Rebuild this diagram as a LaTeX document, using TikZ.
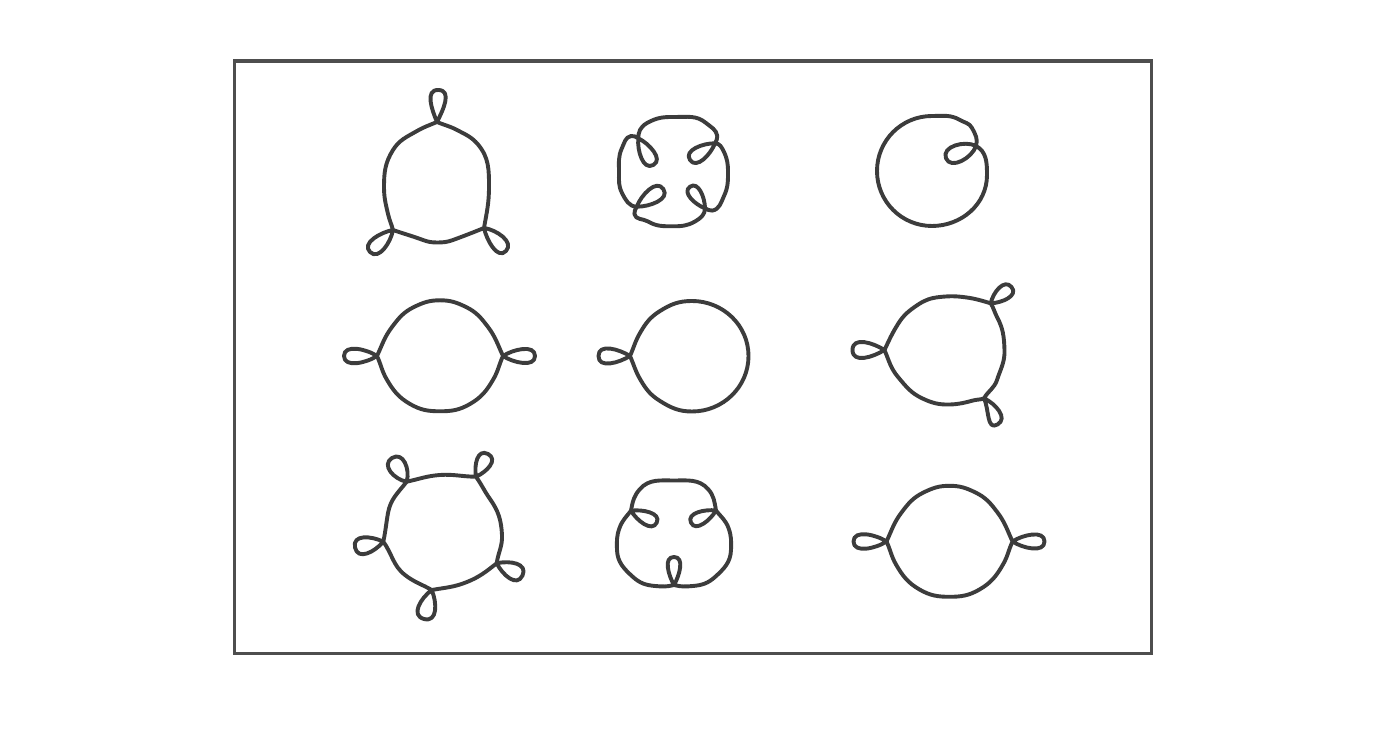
\documentclass[tikz,border=0pt]{standalone}
\usepackage{tikz}
\definecolor{ink}{RGB}{60,60,60}
\definecolor{framegray}{RGB}{78,78,78}
% waypoint path builder: point (x, y_img) with heading (degrees, y up)
\newcommand\cstart[3]{\xdef\cpath{(#1,-#2)}\xdef\curh{#3}}
\newcommand\wpt[4][]{\xdef\cpath{\cpath\space to[out=\curh,in=\the\numexpr#4+180\relax,#1] (#2,-#3)}\xdef\curh{#4}}
% waypoint with a change of heading (crossing point): arrive with #4, leave with #5
\newcommand\wptk[5][]{\xdef\cpath{\cpath\space to[out=\curh,in=\the\numexpr#4+180\relax,#1] (#2,-#3)}\xdef\curh{#5}}
\newcommand\cpathdraw[1][]{\edef\cpathtmp{\noexpand\draw[curve,#1] \cpath;}\cpathtmp}
\begin{document}
\begin{tikzpicture}[x=1pt,y=1pt,
  curve/.style={draw=ink,line width=3.9pt,line cap=round,line join=round},
  framebox/.style={draw=framegray,line width=3.3pt}]
\useasboundingbox (0,0) rectangle (1400,754);
\fill[white] (0,0) rectangle (1400,754);
\begin{scope}[shift={(0,754)}]
\draw[framebox] (234.3,-61) rectangle (1151.5,-653.5);

% ---------- Figure 1 (top left): three outward loops
\cstart{437}{122}{203}
\wpt{417}{131}{210}
\wpt{393}{150}{238}
\wpt{384}{187}{270}
\wpt{388}{214}{283}
\wptk{393}{230}{285}{260}
\wpt{370}{252}{135}
\wptk{393}{230}{10}{341}
\wpt{423}{240}{340}
\wpt{437}{242.5}{0}
\wpt{453}{240}{20}
\wptk{484}{228}{22}{352}
\wpt{506}{251}{227}
\wptk{484}{228}{102}{80}
\wpt{489}{187}{90}
\wpt{478}{144.5}{130}
\wpt{457}{130}{152}
\wptk{437}{122}{157}{113}
\wpt[looseness=1.1]{438.5}{90}{358}
\wptk[looseness=1.1]{437}{122}{243}{203}
\cpathdraw

% ---------- Figure 2 (top middle): four inward loops
\cstart{638.3}{138.3}{264}
\wpt{653.3}{165}{29}
\wpt{638.3}{138.3}{154}
\wpt{631}{136}{192}
\wpt{622}{148}{245}
\wpt{619}{172}{270}
\wpt{622}{193}{297}
\wpt{636.7}{206.7}{359}
\wpt{663.3}{189}{124}
\wpt{636.7}{206.7}{249}
\wpt{634.4}{214}{280}
\wpt{648}{221.5}{330}
\wpt{672}{226.3}{0}
\wpt{695}{221.5}{30}
\wpt{705}{208.3}{90}
\wpt{690}{186.7}{215}
\wpt{705}{208.3}{340}
\wpt{712.3}{210.6}{10}
\wpt{724}{196}{65}
\wpt{728}{172}{90}
\wpt{724}{152}{115}
\wpt{715}{143.3}{179}
\wpt{690}{160}{304}
\wpt{715}{143.3}{69}
\wpt{717.3}{136}{100}
\wpt{706}{123}{140}
\wpt{675}{117}{180}
\wpt{651}{121}{205}
\wpt{640}{130}{240}
\wpt{638.3}{138.3}{264}
\cpathdraw

% ---------- Figure 3 (top right): circle with one inward loop
\cstart{976}{146}{72}
\wpt{972}{128}{118}
\wpt{960}{120}{150}
\wpt{932}{116}{180}
\wpt{877}{171}{270}
\wpt{932}{226}{0}
\wpt{987}{175}{90}
\wpt{976}{146}{152}
\wpt{946}{158.3}{292}
\wpt{976}{146}{72}
\cpathdraw

% ---------- Figure 4 (middle left) and Figure 9 (bottom right): two outward loops
\cstart{440}{300.3}{180}
\wpt{414}{307}{206}
\wpt{392}{327}{233}
\wptk{377}{356}{245}{214}
\wpt[looseness=0.95]{344}{356}{90}
\wptk[looseness=0.95]{377}{356}{326}{295}
\wpt{386.5}{379}{300}
\wpt{410}{404}{330}
\wpt{440}{411.3}{0}
\wpt{470}{404}{30}
\wpt{493.5}{379}{60}
\wptk{503}{356}{65}{34}
\wpt[looseness=0.95]{535}{356}{270}
\wptk[looseness=0.95]{503}{356}{146}{115}
\wpt{488}{327}{127}
\wpt{466}{307}{154}
\wpt{440}{300.3}{180}
\cpathdraw
\cpathdraw[shift={(509.5,-185.5)}]

% ---------- Figure 5 (middle): one outward loop
\cstart{692}{301}{180}
\wpt{660}{311}{212}
\wpt{640}{333}{240}
\wptk{630}{356}{246}{212}
\wpt[looseness=1.05]{598.5}{356}{90}
\wptk[looseness=1.05]{630}{356}{328}{294}
\wpt{640}{379}{300}
\wpt{660}{401}{328}
\wpt{692}{411.5}{0}
\wpt{748.5}{356}{90}
\wpt{692}{301}{180}
\cpathdraw

% ---------- Figure 6 (middle right): three outward loops
\cstart{884.5}{350}{293}
\wpt{898}{377}{310}
\wpt{922.5}{398.5}{335}
\wpt{950}{404.5}{2}
\wpt{973}{400.5}{15}
\wptk{984}{398.3}{22}{335}
\wpt[looseness=1.1]{997.5}{424.5}{210}
\wptk[looseness=1.1]{984}{398.3}{115}{60}
\wpt{997}{380}{72}
\wpt{1004.5}{350}{92}
\wpt{997}{317}{118}
\wptk{990.7}{303.3}{122}{78}
\wpt[looseness=1.1]{1011.5}{287}{310}
\wptk[looseness=1.1]{990.7}{303.3}{182}{164}
\wpt{966.7}{297.5}{172}
\wpt{940}{297}{186}
\wpt{917.5}{305}{214}
\wpt{898}{324}{238}
\wptk{884.5}{350}{245}{212}
\wpt[looseness=1.1]{852.5}{350}{90}
\wptk[looseness=1.1]{884.5}{350}{328}{293}
\cpathdraw

% ---------- Figure 7 (bottom left): five outward loops
\cstart{406.7}{481.7}{232}
\wpt{388}{513}{260}
\wptk{383.3}{541.7}{258}{230}
\wpt[looseness=1.2]{355}{547.5}{102}
\wptk[looseness=1.2]{383.3}{541.7}{334}{306}
\wpt{405}{575}{322}
\wptk{431.7}{590}{330}{293}
\wpt[looseness=1.2]{424}{619}{165}
\wptk[looseness=1.2]{431.7}{590}{37}{10}
\wpt{467}{582}{22}
\wptk{496.7}{563.3}{38}{13}
\wpt[looseness=1.2]{522.5}{575.5}{245}
\wptk[looseness=1.2]{496.7}{563.3}{117}{82}
\wpt{502}{535}{93}
\wpt{490}{499}{125}
\wptk{476}{476.7}{125}{100}
\wpt[looseness=1.2]{488}{454}{332}
\wptk[looseness=1.2]{476}{476.7}{204}{180}
\wpt{440}{475}{184}
\wptk{406.7}{481.7}{192}{170}
\wpt[looseness=1.2]{392}{458}{32}
\wptk[looseness=1.2]{406.7}{481.7}{254}{232}
\cpathdraw

% ---------- Figure 8 (bottom middle): three inward loops
\cstart{674}{480.5}{180}
\wpt{640}{489}{228}
\wptk{631}{510.7}{260}{300}
\wpt{656.7}{522.7}{64}
\wptk{631}{510.7}{188}{232}
\wpt{619.5}{528}{250}
\wpt{617}{550}{272}
\wpt{633}{577}{318}
\wpt{655}{586}{355}
\wptk{674}{585}{15}{60}
\wpt{674}{557}{180}
\wptk{674}{585}{300}{345}
\wpt{693}{586}{5}
\wpt{715}{577}{42}
\wpt{731}{550}{88}
\wpt{728.5}{528}{110}
\wptk{716}{510.5}{128}{172}
\wpt{691}{522.7}{296}
\wptk{716}{510.5}{60}{100}
\wpt{708}{489}{132}
\wpt{674}{480.5}{180}
\cpathdraw
\end{scope}
\end{tikzpicture}
\end{document}
